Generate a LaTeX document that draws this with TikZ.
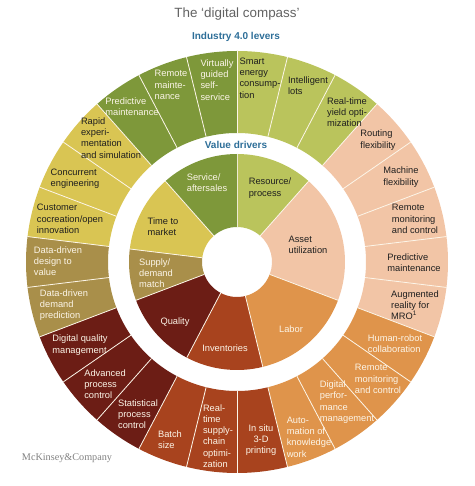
\documentclass[tikz,border=0pt]{standalone}
\usepackage{fontspec}
\setmainfont{Liberation Sans}
\newfontfamily\mckfont{Liberation Serif}

\definecolor{lime}{HTML}{BAC45C}
\definecolor{peach}{HTML}{F2C5A6}
\definecolor{amber}{HTML}{DF944B}
\definecolor{rust}{HTML}{A8431E}
\definecolor{maroon}{HTML}{6C1D15}
\definecolor{ochre}{HTML}{A98F4A}
\definecolor{mustard}{HTML}{D9C553}
\definecolor{leaf}{HTML}{7E983A}
\definecolor{cream}{HTML}{FCF5E8}
\definecolor{headblue}{HTML}{2D6E98}
\definecolor{titlegray}{HTML}{626262}

\begin{document}
\begin{tikzpicture}[x=1pt, y=1pt,
    lbl/.style={align=left, inner sep=0pt, font=\fontsize{9.3}{11.3}\selectfont, text=black!88},
    lblw/.style={lbl, text=cream},
    sep/.style={draw=cream, line width=0.8pt}]
    \useasboundingbox (-237,-224) rectangle (237,262);
    \pgfmathsetmacro{\stp}{360/26}

    % outer ring: industry 4.0 levers
    \foreach \col [count=\k from 0] in {lime,lime,lime,peach,peach,peach,peach,peach,amber,amber,amber,amber,rust,rust,rust,maroon,maroon,maroon,ochre,ochre,mustard,mustard,mustard,leaf,leaf,leaf} {
        \pgfmathsetmacro{\sa}{90-\k*\stp}
        \pgfmathsetmacro{\sb}{90-(\k+1)*\stp}
        \fill[\col] (\sa:129) arc[start angle=\sa, end angle=\sb, radius=129]
            -- (\sb:211) arc[start angle=\sb, end angle=\sa, radius=211] -- cycle;
    }
    \foreach \k in {0,...,25} {
        \draw[sep] ({90-\k*\stp}:129) -- ({90-\k*\stp}:211);
    }

    % inner ring: value drivers
    \foreach \i/\j/\col in {0/3/lime, 3/8/peach, 8/12/amber, 12/15/rust, 15/18/maroon, 18/20/ochre, 20/23/mustard, 23/26/leaf} {
        \pgfmathsetmacro{\sa}{90-\i*\stp}
        \pgfmathsetmacro{\sb}{90-\j*\stp}
        \fill[\col] (\sa:35) arc[start angle=\sa, end angle=\sb, radius=35]
            -- (\sb:108) arc[start angle=\sb, end angle=\sa, radius=108] -- cycle;
        \draw[sep] (\sa:35) -- (\sa:108);
    }

    % headings
    \node (title) at (0,248) {\fontsize{13.4}{15}\selectfont\color{titlegray}The ‘digital compass’};
    \node (levers) at (-1,225) {\fontsize{10}{12}\selectfont\bfseries\color{headblue}Industry 4.0 levers};
    \node (drivers) at (-1,117) {\fontsize{10}{12}\selectfont\bfseries\color{headblue}Value drivers};
    \node (mck) at (-170,-196) {\fontsize{10.2}{12}\selectfont\mckfont\color{titlegray!80}McKinsey\&Company};

    % value drivers
    \node[lbl] (resource) at (33,74) {Resource/\\process};
    \node[lbl] (asset) at (71,17) {Asset\\utilization};
    \node[lblw] (labor) at (54,-67) {Labor};
    \node[lblw] (invent) at (-12,-86) {Inventories};
    \node[lblw] (quality) at (-62,-60) {Quality};
    \node[lblw] (supply) at (-81,-11) {Supply/\\demand\\match};
    \node[lbl] (ttm) at (-74,35) {Time to\\market};
    \node[lblw] (service) at (-30,79) {Service/\\aftersales};

    % levers
    \node[lbl] (energy) at (23,184) {Smart\\energy\\consump-\\tion};
    \node[lbl] (lots) at (71,176) {Intelligent\\lots};
    \node[lbl] (yield) at (110,150) {Real-time\\yield opti-\\mization};
    \node[lbl] (routing) at (141,122) {Routing\\flexibility};
    \node[lbl] (machine) at (164,85) {Machine\\flexibility};
    \node[lbl] (remmon) at (178,43) {Remote\\monitoring\\and control};
    \node[lbl] (predmaint) at (177,-1) {Predictive\\maintenance};
    \node[lbl] (augment) at (178,-43) {Augmented\\reality for\\MRO\textsuperscript{1}};
    \node[lblw] (cobot) at (158,-82) {Human-robot\\collaboration};
    \node[lblw] (remmontwo) at (141,-117) {Remote\\monitoring\\and control};
    \node[lblw] (perform) at (110,-140) {Digital\\perfor-\\mance\\management};
    \node[lblw] (automat) at (72,-175) {Auto-\\mation of\\knowledge\\work};
    \node[lblw, align=center] (printing) at (24,-178) {In situ\\3-D\\printing};
    \node[lblw] (supplychain) at (-19,-174) {Real-\\time\\supply-\\chain\\optimi-\\zation};
    \node[lblw] (batch) at (-67,-178) {Batch\\size};
    \node[lblw] (statproc) at (-99,-152) {Statistical\\process\\control};
    \node[lblw] (advproc) at (-132,-122) {Advanced\\process\\control};
    \node[lblw] (digqual) at (-157,-83) {Digital quality\\management};
    \node[lblw] (demand) at (-173,-43) {Data-driven\\demand\\prediction};
    \node[lblw] (design) at (-179,1) {Data-driven\\design to\\value};
    \node[lbl] (cocreate) at (-167,43) {Customer\\cocreation/open\\innovation};
    \node[lbl] (concur) at (-162,83) {Concurrent\\engineering};
    \node[lbl] (rapid) at (-126,124) {Rapid\\experi-\\mentation\\and simulation};
    \node[lblw] (predmainttwo) at (-105,155) {Predictive\\maintenance};
    \node[lblw] (remmaint) at (-66,177) {Remote\\mainte-\\nance};
    \node[lblw] (virtual) at (-20,182) {Virtually\\guided\\self-\\service};

\end{tikzpicture}
\end{document}
